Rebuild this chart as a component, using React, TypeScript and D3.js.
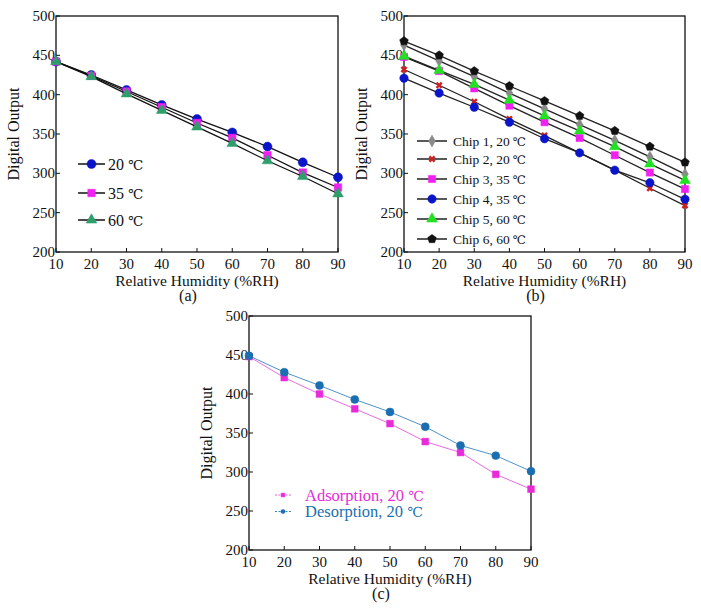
import * as d3 from "d3";

const humidity = [10, 20, 30, 40, 50, 60, 70, 80, 90];
const yTicks = [200, 250, 300, 350, 400, 450, 500];

// panel (a)
const a20 = [442, 425, 406, 387, 369, 352, 334, 314, 295];
const a35 = [442, 424, 404, 384, 364, 345, 323, 301, 282];
const a60 = [442, 423, 401, 380, 359, 338, 316, 296, 274];

// panel (b)
const chip1 = [463, 443, 423, 402, 382, 362, 342, 321, 299];
const chip2 = [432, 412, 391, 369, 348, 326, 304, 281, 259];
const chip3 = [448, 430, 408, 386, 365, 345, 323, 301, 280];
const chip4 = [421, 402, 384, 365, 344, 326, 304, 288, 267];
const chip5 = [449, 431, 413, 393, 373, 354, 334, 312, 291];
const chip6 = [468, 450, 430, 411, 392, 373, 354, 334, 314];

// panel (c)
const adsorption = [448, 421, 400, 381, 362, 339, 325, 297, 278];
const desorption = [449, 428, 411, 393, 377, 358, 334, 321, 301];

const pentagon = {
  draw(ctx: any, size: number) {
    const r = Math.sqrt(size / 2.4);
    for (let i = 0; i < 5; i++) {
      const t = -Math.PI / 2 + (i * 2 * Math.PI) / 5;
      const x = r * Math.cos(t);
      const y = r * Math.sin(t);
      if (i === 0) ctx.moveTo(x, y);
      else ctx.lineTo(x, y);
    }
    ctx.closePath();
  },
};

type Series = {
  label: string;
  values: number[];
  color: string;
  line: string;
  shape: any;
  size: number;
  rotate?: number;
  lineWidth: number;
};

type Box = { left: number; top: number; right: number; bottom: number };

const font = "'Liberation Serif', 'Times New Roman', serif";

function Marker({ s, x, y }: { s: Series; x: number; y: number }) {
  const path = d3.symbol().type(s.shape).size(s.size)() as string;
  const isCross = s.shape === d3.symbolCross;
  return (
    <path
      d={path}
      transform={`translate(${x},${y}) rotate(${s.rotate ?? 0})`}
      fill={s.color}
      stroke={isCross ? "none" : s.color}
      strokeWidth={0.5}
    />
  );
}

// keep the serif face for the words, the degree sign comes from DejaVu Serif
function Label({ text }: { text: string }) {
  const parts = text.split("℃");
  return (
    <>
      <tspan fontFamily={font}>{parts[0]}</tspan>
      {parts.length > 1 && (
        <tspan fontFamily="'DejaVu Serif', serif" fontSize="0.85em">
          ℃
        </tspan>
      )}
    </>
  );
}

function Panel({
  box,
  series,
  caption,
  legend,
}: {
  box: Box;
  series: Series[];
  caption: string;
  legend: { x0: number; x1: number; textX: number; ys: number[]; fontSize: number; dashed?: boolean; colored?: boolean };
}) {
  const x = d3.scaleLinear().domain([10, 90]).range([box.left, box.right]);
  const y = d3.scaleLinear().domain([200, 500]).range([box.bottom, box.top]);
  const line = d3
    .line<number>()
    .x((_, i) => x(humidity[i]))
    .y((d) => y(d));
  const midX = (box.left + box.right) / 2;
  return (
    <g fontFamily={font} fill="#111">
      <rect
        x={box.left}
        y={box.top}
        width={box.right - box.left}
        height={box.bottom - box.top}
        fill="none"
        stroke="#111"
        strokeWidth={1.3}
      />
      {humidity.map((h) => (
        <g key={h}>
          <line x1={x(h)} x2={x(h)} y1={box.bottom} y2={box.bottom - 4} stroke="#111" strokeWidth={1} />
          <text x={x(h)} y={box.bottom + 17} textAnchor="middle" fontSize={15}>
            {h}
          </text>
        </g>
      ))}
      {yTicks.map((t) => (
        <g key={t}>
          <line x1={box.left} x2={box.left + 4} y1={y(t)} y2={y(t)} stroke="#111" strokeWidth={1} />
          <text x={box.left - 1} y={y(t) + 5} textAnchor="end" fontSize={15}>
            {t}
          </text>
        </g>
      ))}
      <text
        transform={`translate(${box.left - 37},${(box.top + box.bottom) / 2}) rotate(-90)`}
        textAnchor="middle"
        fontSize={16}
      >
        Digital Output
      </text>
      <text x={midX} y={box.bottom + 34} textAnchor="middle" fontSize={15.5}>
        Relative Humidity (%RH)
      </text>
      <text x={midX - 9} y={box.bottom + 49} textAnchor="middle" fontSize={16}>
        {caption}
      </text>
      {series.map((s) => (
        <g key={s.label}>
          <path d={line(s.values) as string} fill="none" stroke={s.line} strokeWidth={s.lineWidth} />
          {s.values.map((v, i) => (
            <Marker key={i} s={s} x={x(humidity[i])} y={y(v)} />
          ))}
        </g>
      ))}
      {series.map((s, i) => (
        <g key={"lg" + s.label}>
          <line
            x1={legend.x0}
            x2={legend.x1}
            y1={legend.ys[i]}
            y2={legend.ys[i]}
            stroke={s.line}
            strokeWidth={legend.dashed ? 1 : 1.5}
            strokeDasharray={legend.dashed ? "2,1.5" : undefined}
          />
          <Marker
            s={{ ...s, size: legend.dashed ? 14 : s.size }}
            x={(legend.x0 + legend.x1) / 2}
            y={legend.ys[i]}
          />
          <text
            x={legend.textX}
            y={legend.ys[i] + legend.fontSize * 0.35}
            fontSize={legend.fontSize}
            fill={legend.colored ? s.color : "#111"}
          >
            <Label text={s.label} />
          </text>
        </g>
      ))}
    </g>
  );
}

const seriesA: Series[] = [
  { label: "20 ℃", values: a20, color: "#0a14c8", line: "#111", shape: d3.symbolCircle, size: 64, lineWidth: 1.3 },
  { label: "35 ℃", values: a35, color: "#f020f0", line: "#111", shape: d3.symbolSquare, size: 56, lineWidth: 1.3 },
  { label: "60 ℃", values: a60, color: "#2e9e6a", line: "#111", shape: d3.symbolTriangle, size: 50, lineWidth: 1.3 },
];

const seriesB: Series[] = [
  { label: "Chip 1, 20 ℃", values: chip1, color: "#8a8a8a", line: "#222", shape: d3.symbolDiamond, size: 40, lineWidth: 1.3 },
  { label: "Chip 2, 20 ℃", values: chip2, color: "#cc2222", line: "#222", shape: d3.symbolCross, size: 30, rotate: 45, lineWidth: 1.3 },
  { label: "Chip 3, 35 ℃", values: chip3, color: "#f020f0", line: "#222", shape: d3.symbolSquare, size: 52, lineWidth: 1.3 },
  { label: "Chip 4, 35 ℃", values: chip4, color: "#0a14c8", line: "#222", shape: d3.symbolCircle, size: 56, lineWidth: 1.3 },
  { label: "Chip 5, 60 ℃", values: chip5, color: "#22e022", line: "#222", shape: d3.symbolTriangle, size: 50, lineWidth: 1.3 },
  { label: "Chip 6, 60 ℃", values: chip6, color: "#111", line: "#222", shape: pentagon, size: 50, lineWidth: 1.3 },
];

const seriesC: Series[] = [
  { label: "Adsorption, 20 ℃", values: adsorption, color: "#e82ad8", line: "#e85ae0", shape: d3.symbolSquare, size: 46, lineWidth: 0.9 },
  { label: "Desorption, 20 ℃", values: desorption, color: "#1b6fb0", line: "#3a86c0", shape: d3.symbolCircle, size: 50, lineWidth: 0.9 },
];

export default function App() {
  return (
    <svg
      width={701}
      height={609}
      viewBox="0 0 701 609"
      style={{ position: "absolute", left: 0, top: 0, background: "#fff" }}
    >
      <rect width={701} height={609} fill="#fff" />
      <Panel
        box={{ left: 56, top: 16, right: 338, bottom: 252 }}
        series={seriesA}
        caption="(a)"
        legend={{ x0: 78, x1: 105, textX: 108, ys: [164, 193, 220], fontSize: 16 }}
      />
      <Panel
        box={{ left: 404, top: 16, right: 685, bottom: 252 }}
        series={seriesB}
        caption="(b)"
        legend={{ x0: 417, x1: 447, textX: 453, ys: [141, 159, 179, 199, 219, 239], fontSize: 13.5 }}
      />
      <Panel
        box={{ left: 249, top: 316, right: 531, bottom: 550 }}
        series={seriesC}
        caption="(c)"
        legend={{ x0: 275, x1: 291, textX: 305, ys: [495, 511.5], fontSize: 16.5, dashed: true, colored: true }}
      />
    </svg>
  );
}
